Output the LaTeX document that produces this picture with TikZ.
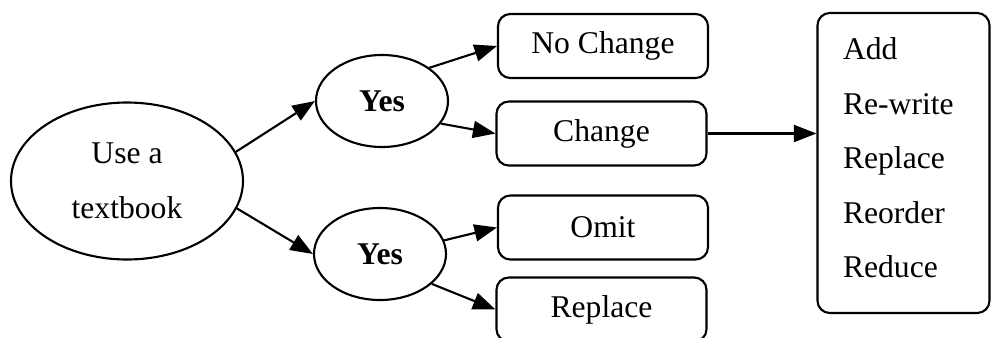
\documentclass[tikz,border=0pt]{standalone}
\usepackage{fontspec}
\setmainfont{Liberation Serif}
\usetikzlibrary{arrows.meta,positioning,shapes.geometric}

\begin{document}
\begin{tikzpicture}[
    font=\fontsize{18}{31}\selectfont,
    oval/.style={draw, ellipse, line width=1.2pt, inner sep=0pt},
    choice/.style={draw, rounded corners=7pt, line width=1.2pt, minimum width=4.2cm, minimum height=1.28cm},
    link/.style={line width=1.2pt, -{Triangle[length=4.5mm, width=3.4mm]}}
]
    % Frame of the picture
    \useasboundingbox (0,0) rectangle (19.82,6.74);

    % Start and the two answers
    \node[oval, minimum width=4.64cm, minimum height=3.14cm, align=center] (book) at (2.54,3.12) {Use a\\textbook};
    \node[oval, minimum width=2.64cm, minimum height=1.84cm, font=\fontsize{18}{31}\selectfont\bfseries] (yesA) at (7.64,4.72) {Yes};
    \node[oval, minimum width=2.64cm, minimum height=1.84cm, font=\fontsize{18}{31}\selectfont\bfseries] (yesB) at (7.60,1.66) {Yes};

    % Options
    \node[choice] (nochange) at (12.06,5.82) {No Change};
    \node[choice] (change) at (12.03,4.07) {Change};
    \node[choice] (omit) at (12.06,2.19) {Omit};
    \node[choice] (replace) at (12.03,0.55) {Replace};

    % Kinds of change
    \node[draw, rounded corners=7pt, line width=1.2pt, minimum width=3.44cm, minimum height=6.0cm,
          align=left, text width=2.42cm] (kinds) at (18.07,3.48) {Add\\Re-write\\Replace\\Reorder\\Reduce\\[-25pt]\mbox{}};

    % Arrows
    \draw[link] (book.15) -- (yesA.west);
    \draw[link] (book.-14) -- (yesB.west);
    \draw[link] (yesA.35) -- (nochange.west);
    \draw[link] (yesA.-21) -- (change.west);
    \draw[link] (yesB.12) -- (omit.west);
    \draw[link] (yesB.-30) -- (replace.west);
    \draw[link] (change.east) -- (change.east -| kinds.west);
\end{tikzpicture}
\end{document}
